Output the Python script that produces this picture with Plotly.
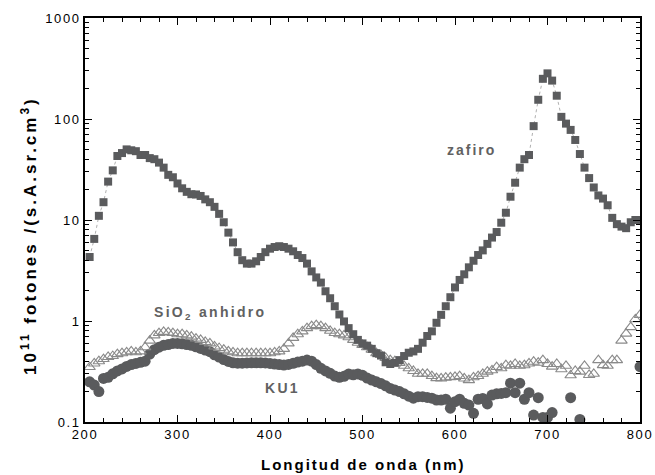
import plotly.graph_objects as go

# ---------------- data ----------------
wavelength = list(range(205, 801, 5))  # nm, 205 ... 800

zafiro = [
    4.3, 6.5, 11, 15, 24, 31, 43, 46, 50, 49,
    48, 44, 44, 41, 40, 37, 33, 28, 26.5, 23,
    20.6, 19, 18, 17.9, 17.3, 16, 15, 13.5, 11.5, 9.5,
    7.5, 6.0, 4.8, 4.0, 3.7, 3.7, 3.9, 4.3, 4.8, 5.2,
    5.4, 5.5, 5.4, 5.2, 4.9, 4.5, 4.2, 3.7, 3.1, 2.7,
    2.4, 1.97, 1.68, 1.4, 1.16, 0.99, 0.85, 0.74, 0.65, 0.6,
    0.57, 0.53, 0.48, 0.455, 0.39, 0.375, 0.385, 0.41, 0.45, 0.485,
    0.5, 0.53, 0.61, 0.71, 0.79, 0.96, 1.15, 1.4, 1.72, 2.15,
    2.55, 2.9, 3.4, 3.95, 4.5, 5.0, 5.8, 6.7, 7.6, 9.4,
    11.8, 17, 23.4, 33, 40, 44, 85, 155, 250, 283,
    240, 170, 105, 90, 78, 62, 45, 33, 26, 21,
    17.5, 16.3, 14, 10.5, 9.1, 8.6, 8.3, 9.5, 10, 10,
]

sio2_anhidro = [
    0.35, 0.38, 0.40, 0.42, 0.44, 0.45, 0.47, 0.48, 0.49, 0.50,
    0.49, 0.50, 0.55, 0.64, 0.72, 0.76, 0.78, 0.77, 0.76, 0.74,
    0.74, 0.72, 0.70, 0.67, 0.65, 0.62, 0.60, 0.56, 0.54, 0.52,
    0.50, 0.49, 0.48, 0.48, 0.48, 0.48, 0.48, 0.48, 0.48, 0.48,
    0.49, 0.50, 0.53, 0.60, 0.68, 0.74, 0.79, 0.85, 0.89, 0.91,
    0.89, 0.85, 0.80, 0.76, 0.74, 0.72, 0.69, 0.65, 0.61, 0.58,
    0.55, 0.52, 0.48, 0.46, 0.43, 0.41, 0.40, 0.385, 0.36, 0.34,
    0.32, 0.30, 0.30, 0.30, 0.285, 0.272, 0.27, 0.275, 0.277, 0.28,
    0.285, 0.27, 0.26, 0.277, 0.285, 0.30, 0.315, 0.325, 0.35, 0.34,
    0.365, 0.36, 0.375, 0.36, 0.365, 0.38, 0.395, 0.386, 0.41, 0.375,
    0.353, 0.375, 0.333, 0.36, 0.29, 0.32, 0.315, 0.36, 0.292, 0.30,
    0.41, 0.366, 0.36, 0.41, 0.41, 0.64, 0.75, 0.87, 1.04, 1.15,
]

ku1 = [
    0.25, 0.232, 0.2, 0.27, 0.277, 0.30, 0.32, 0.335, 0.355, 0.37,
    0.38, 0.39, 0.40, 0.47, 0.52, 0.55, 0.575, 0.585, 0.60, 0.60,
    0.595, 0.585, 0.575, 0.555, 0.535, 0.515, 0.497, 0.462, 0.44, 0.415,
    0.398, 0.385, 0.382, 0.382, 0.384, 0.386, 0.386, 0.386, 0.384, 0.38,
    0.375, 0.37, 0.366, 0.372, 0.381, 0.392, 0.40, 0.41, 0.40, 0.37,
    0.34, 0.32, 0.303, 0.285, 0.277, 0.283, 0.298, 0.293, 0.299, 0.29,
    0.272, 0.26, 0.25, 0.24, 0.228, 0.215, 0.207, 0.20, 0.19, 0.18,
    0.172, 0.178, 0.178, 0.175, 0.172, 0.165, 0.165, 0.168, 0.137, 0.159,
    0.168, 0.153, 0.147, 0.122, 0.168, 0.171, 0.151, 0.185, 0.19, 0.192,
    0.195, 0.242, 0.195, 0.242, 0.168, 0.195, 0.117, 0.174, 0.111, 0.111,
    0.124, None, None, None, 0.174, None, 0.106, None, None, None,
    None, None, None, None, None, None, None, None, None, 0.353,
]

x_ticks = [200, 300, 400, 500, 600, 700, 800]
x_tick_text = ["200", "300", "400", "500", "600", "700", "800"]
y_ticks = [0.1, 1, 10, 100, 1000]
y_tick_text = ["0.1", "1", "10", "100", "1000"]

# ---------------- figure ----------------
DARK = "#5a5b5d"
TRI = "#8a8a8a"
FONT = "Liberation Sans, Arial, sans-serif"


def spaced(text, px):
    return f'<span style="letter-spacing:{px}px">{text}</span>'


fig = go.Figure()

fig.add_trace(go.Scatter(
    x=wavelength, y=ku1, mode="markers", name="KU1",
    marker=dict(symbol="circle", size=11, color=DARK, line=dict(width=0)),
))
fig.add_trace(go.Scatter(
    x=wavelength, y=sio2_anhidro, mode="markers", name="SiO2 anhidro",
    marker=dict(symbol="triangle-up-open", size=10, color=TRI, line=dict(width=1.1, color=TRI)),
))
fig.add_trace(go.Scatter(
    x=wavelength, y=zafiro, mode="lines+markers", name="zafiro",
    line=dict(color="#b0b0b0", width=1, dash="dot"),
    marker=dict(symbol="square", size=8, color=DARK, line=dict(width=0)),
))

minor_y = [k * 10 ** e for e in range(-1, 3) for k in range(2, 10)]

axis_common = dict(
    showline=True, linecolor="black", linewidth=1.6, mirror="ticks", automargin=False,
    ticks="inside", tickcolor="black", tickwidth=1.2, showgrid=False, zeroline=False,
    tickfont=dict(family=FONT, size=13, color="black"),
)

fig.update_xaxes(
    range=[200, 800], tickmode="array", tickvals=x_ticks,
    ticktext=[spaced(t, 1.6) for t in x_tick_text], ticklen=7,
    minor=dict(ticks="inside", dtick=20, ticklen=4, tickcolor="black", tickwidth=1, showgrid=False),
    **axis_common,
)
fig.update_yaxes(
    type="log", range=[-1, 3], tickmode="array", tickvals=y_ticks,
    ticktext=[spaced(t, 1.6) for t in y_tick_text], ticklen=7,
    minor=dict(ticks="inside", tickmode="array", tickvals=minor_y, ticklen=4,
               tickcolor="black", tickwidth=1, showgrid=False),
    **axis_common,
)

label_font = dict(family=FONT, size=14, color="#616161", weight="bold")
annotations = [
    dict(x=618, y=1.693, xref="x", yref="y", text=spaced("zafiro", 2), showarrow=False, font=label_font),
    dict(x=335, y=0.075, xref="x", yref="y", text=spaced("SiO<sub>2</sub> anhidro", 2.3),
         showarrow=False, font=label_font),
    dict(x=414, y=-0.663, xref="x", yref="y", text=spaced("KU1", 2.3), showarrow=False, font=label_font),
    dict(x=0.5, y=-0.105, xref="paper", yref="paper", xanchor="center", yanchor="middle",
         text=spaced("Longitud de onda (nm)", 2), showarrow=False,
         font=dict(family=FONT, size=15, color="black", weight="bold")),
    dict(x=-0.101, y=0.463, xref="paper", yref="paper", xanchor="center", yanchor="middle",
         textangle=-90, text=spaced("10<sup>11</sup> fotones /(s.A.sr.cm<sup>3</sup>)", 3),
         showarrow=False, font=dict(family=FONT, size=17, color="black", weight="bold")),
]

fig.update_layout(
    width=655, height=475,
    margin=dict(l=85, r=15, t=18, b=53),
    paper_bgcolor="white", plot_bgcolor="white",
    showlegend=False,
    annotations=annotations,
)

fig.write_html(
    "out.html",
    config={"displayModeBar": False},
    post_script="document.body.style.margin='0';document.body.style.overflow='hidden';",
)
